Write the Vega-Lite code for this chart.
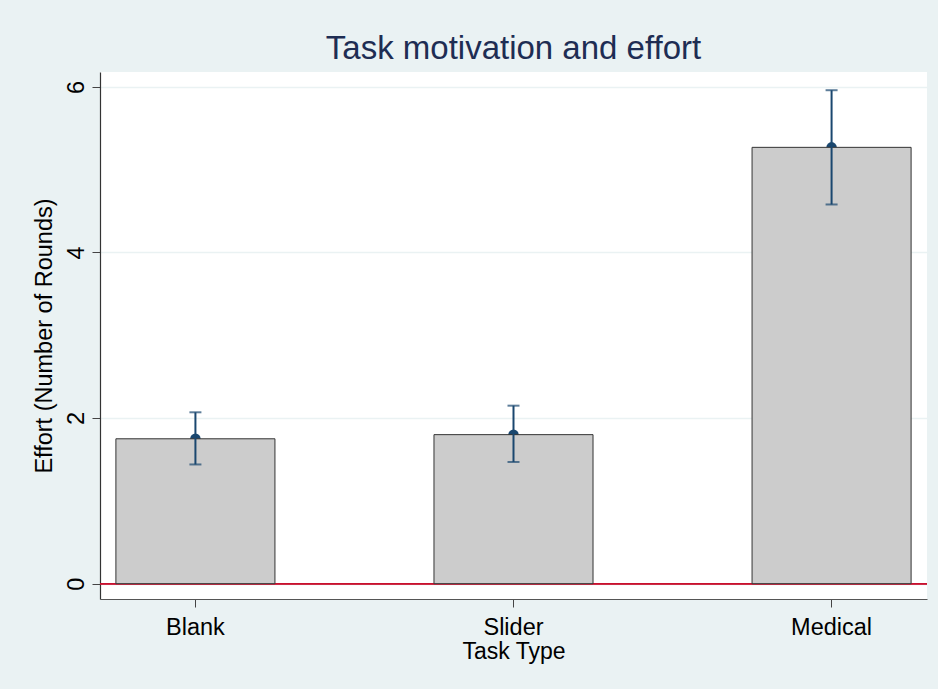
{
  "$schema": "https://vega.github.io/schema/vega-lite/v6.json",
  "width": 827,
  "height": 527,
  "autosize": {"type": "none"},
  "padding": {"left": 100, "top": 72, "right": 11, "bottom": 90},
  "background": "#EAF2F3",
  "title": {
    "text": "Task motivation and effort",
    "font": "Liberation Sans",
    "fontSize": 33,
    "fontWeight": "normal",
    "color": "#1e2d53",
    "anchor": "middle",
    "frame": "group",
    "baseline": "alphabetic",
    "offset": -20
  },
  "config": {
    "font": "Liberation Sans",
    "view": {"fill": "white", "stroke": null}
  },
  "data": {
    "values": [
      {"task": "Blank", "mean": 1.75, "lo": 1.44, "hi": 2.07},
      {"task": "Slider", "mean": 1.80, "lo": 1.47, "hi": 2.15},
      {"task": "Medical", "mean": 5.27, "lo": 4.58, "hi": 5.96}
    ]
  },
  "encoding": {
    "x": {
      "field": "task",
      "type": "nominal",
      "sort": ["Blank", "Slider", "Medical"],
      "scale": {"paddingInner": 0.5, "paddingOuter": 0.05},
      "axis": {
        "title": "Task Type",
        "titleFont": "Liberation Sans",
        "titleFontSize": 23,
        "titleFontWeight": "normal",
        "titleColor": "#000000",
        "titlePadding": 2,
        "labelFont": "Liberation Sans",
        "labelFontSize": 23.5,
        "labelColor": "#000000",
        "labelAngle": 0,
        "labelPadding": 8,
        "tickSize": 8,
        "tickColor": "#444444",
        "domainColor": "#555555",
        "domainWidth": 1.2,
        "grid": false
      }
    }
  },
  "layer": [
    {
      "mark": {"type": "rule", "color": "#c8102e", "strokeWidth": 1.6},
      "encoding": {"y": {"datum": 0, "type": "quantitative"}, "x": null}
    },
    {
      "mark": {"type": "point", "filled": true, "shape": "circle", "size": 110, "color": "#1a476f", "opacity": 1},
      "encoding": {
        "y": {
          "field": "mean",
          "type": "quantitative",
          "scale": {"domain": [-0.185, 6.18], "nice": false, "zero": false},
          "axis": {
            "title": "Effort (Number of Rounds)",
            "titleFont": "Liberation Sans",
            "titleFontSize": 23.5,
            "titleFontWeight": "normal",
            "titleColor": "#000000",
            "titlePadding": 8,
            "values": [0, 2, 4, 6],
            "format": "d",
            "labelFont": "Liberation Sans",
            "labelFontSize": 23.5,
            "labelColor": "#000000",
            "labelAngle": -90,
            "labelAlign": "center",
            "labelBaseline": "alphabetic",
            "labelPadding": 9,
            "tickSize": 8,
            "tickColor": "#444444",
            "domainColor": "#333333",
            "domainWidth": 1.2,
            "grid": true,
            "gridColor": "#EAF2F3",
            "gridWidth": 1.6
          }
        }
      }
    },
    {
      "mark": {"type": "bar", "color": "#cccccc", "stroke": "#333333", "strokeWidth": 1},
      "encoding": {
        "y": {"field": "mean", "type": "quantitative"},
        "y2": {"datum": 0}
      }
    },
    {
      "mark": {"type": "rule", "color": "#1a476f", "strokeWidth": 2},
      "encoding": {
        "y": {"field": "lo", "type": "quantitative"},
        "y2": {"field": "hi"}
      }
    },
    {
      "mark": {"type": "tick", "color": "#1a476f", "size": 12, "thickness": 2, "orient": "horizontal"},
      "encoding": {"y": {"field": "lo", "type": "quantitative"}}
    },
    {
      "mark": {"type": "tick", "color": "#1a476f", "size": 12, "thickness": 2, "orient": "horizontal"},
      "encoding": {"y": {"field": "hi", "type": "quantitative"}}
    }
  ]
}
